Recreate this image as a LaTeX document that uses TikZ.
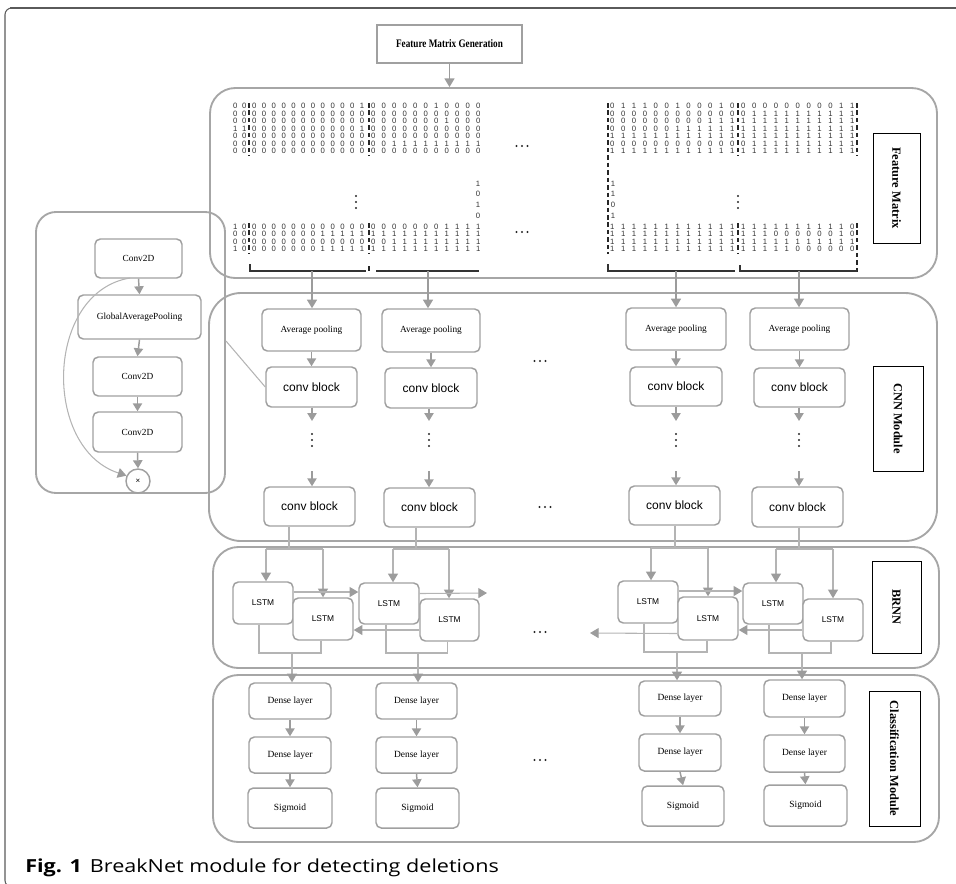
\documentclass[tikz,border=0pt]{standalone}
\usepackage{fontspec}
\setmainfont{Liberation Serif}
\setsansfont{Liberation Sans}
\newfontfamily\fmgfont[FakeStretch=0.8]{Liberation Serif}
\newfontfamily\capfont[FakeStretch=1.2]{Open Sans}
\usetikzlibrary{arrows.meta}
\definecolor{pan}{HTML}{A6A6A6}
\definecolor{bx}{HTML}{A0A0A0}
\definecolor{ar}{HTML}{9C9C9C}
\definecolor{lnc}{HTML}{B4B4B4}
\definecolor{dig}{HTML}{333333}
\definecolor{frm}{HTML}{5A5A5A}
\newlength\dpitch
\def\drow#1{\ifx#1\relax\else\makebox[\dpitch]{#1}\expandafter\drow\fi}
\newcommand\bx[7]{%
  \pgfmathsetmacro\bxcx{(#3+#5)/2}\pgfmathsetmacro\bxcy{(#4+#6)/2}%
  \pgfmathsetmacro\bxw{(#5-#3)*0.75}\pgfmathsetmacro\bxh{(#6-#4)*0.75}%
  \node[#1, minimum width=\bxw pt, minimum height=\bxh pt] (#2) at (\bxcx,\bxcy) {#7};}
\newcommand\mblock[6]{%
  \foreach \r [count=\i from 0] in {#6} {%
    \node[digit] (#1-\i) at (#2,#4+#5*\i) {\setlength\dpitch{#3}\expandafter\drow\r\relax};}}
\newcommand\hdotsat[1]{\foreach \dx in {-5.5,0,5.5} \fill[black!85] (#1) ++(\dx,0) circle (0.85pt);}
\newcommand\vdotsat[1]{\foreach \dy in {-6,0,6} \fill[black!85] (#1) ++(0,\dy) circle (0.85pt);}
\begin{document}
\begin{tikzpicture}[x=0.75pt,y=-0.75pt,
  gbox/.style={draw=bx, line width=1.1pt, rounded corners=4pt, fill=white, inner sep=0pt},
  sbox/.style={draw=bx, line width=1.1pt, fill=white, inner sep=0pt},
  lbox/.style={draw=black, line width=0.7pt, inner sep=0pt, font=\bfseries\fontsize{9.3}{10}\selectfont},
  panel/.style={draw=pan, line width=1.4pt, rounded corners=19pt, inner sep=0pt},
  arr/.style={draw=ar, line width=1.1pt, -{Triangle[length=6.5pt,width=7.5pt]}},
  sarr/.style={draw=ar, line width=1.1pt, -{Triangle[length=6pt,width=7pt]}},
  ln/.style={draw=lnc, line width=0.8pt},
  lnarr/.style={draw=lnc, line width=0.8pt, -{Triangle[length=6.5pt,width=7.5pt,color=ar]}},
  digit/.style={inner sep=0pt, anchor=west, text=dig, font=\sffamily\fontsize{5.8}{6}\selectfont},
  sepl/.style={draw=black!85, line width=0.8pt, dash pattern=on 3.4pt off 2.2pt},
  brk/.style={draw=black!80, line width=1.1pt},
  sf/.style={font=\fontsize{7}{8}\selectfont},
  cb/.style={font=\sffamily\fontsize{9}{10}\selectfont},
  ls/.style={font=\sffamily\fontsize{6.3}{7}\selectfont},
  dn/.style={font=\fontsize{7.1}{8}\selectfont}
]
\useasboundingbox (0,0) rectangle (956,883);
% frame
\draw[frm, line width=1.6pt] (10,8) -- (956,8);
\draw[frm, line width=0.8pt, rounded corners=5pt] (20,8) -- (5,8) -- (5,887) -- (20,887);
% caption
\node[anchor=base west, inner sep=0pt] (cap) at (25,872) {\capfont\fontsize{13.5}{16}\selectfont\textbf{Fig. 1}\hspace{6pt}BreakNet module for detecting deletions};

% panels
\bx{panel}{fm}{210}{88}{937}{278}{}
\bx{panel, rounded corners=24pt}{cnn}{209}{293}{937}{541}{}
\bx{panel}{brnn}{213}{547}{939}{668}{}
\bx{panel}{cls}{213}{675}{939}{842}{}
\bx{panel, rounded corners=15pt}{inset}{36}{212}{225}{493}{}

% feature matrix generation
\bx{sbox, font=\fmgfont\bfseries\fontsize{8.6}{9}\selectfont}{fmg}{377}{25}{522}{63}{Feature Matrix Generation}
\draw[arr] (fmg.south) -- (fmg.south |- fm.north);

% side labels
\bx{lbox}{lfm}{873}{133}{920}{243}{\rotatebox{-90}{Feature Matrix}}
\bx{lbox}{lcnn}{873}{366}{923}{471}{\rotatebox{-90}{CNN Module}}
\bx{lbox}{lbrnn}{872}{561}{921}{653}{\rotatebox{-90}{BRNN}}
\bx{lbox}{lcls}{869}{691}{920}{826}{\rotatebox{-90}{Classification Module}}

% ---------- matrix, left part
\mblock{tl0}{230.5}{6.75pt}{106}{7.5}{00,00,00,11,00,00,00}
\mblock{tl1}{249.1}{7.35pt}{106}{7.5}{000000000001,000000000000,000000000000,000000000001,000000000000,000000000000,000000000000}
\mblock{tl2}{367.75}{7.875pt}{106}{7.5}{00000010000,00000000000,00000001000,00000000000,00000000000,00111111111,00000000000}
\mblock{bl0}{230.5}{6.75pt}{227}{7.3}{10,00,00,10}
\mblock{bl1}{249.1}{7.35pt}{227}{7.3}{000000000000,000000011111,000000000000,000000011111}
\mblock{bl2}{367.75}{7.875pt}{227}{7.3}{00000001111,11111111111,00111111111,11111111111}
\foreach \v/\y [count=\k] in {1/184,0/194,1/205,0/216}
  \node[digit, anchor=center] (ml-\k) at (478,\y) {\v};
% right part
\mblock{tr1}{606.55}{8.175pt}{106}{7.5}{011100100010,000000000000,000000000111,000000111111,111111111111,000000000000,111111111111}
\mblock{tr2}{737.55}{8.175pt}{106}{7.5}{00000000011,01111111111,11111111111,11111111111,11111111111,01111111111,11111111111}
\mblock{br1}{606.55}{8.175pt}{227}{7.3}{111111111111,111111111111,111111111111,111111111111}
\mblock{br2}{737.55}{8.175pt}{227}{7.3}{11111111110,11100000010,11111111111,11111000000}
\foreach \v/\y [count=\k] in {1/184,1/194,0/205,1/216}
  \node[digit, anchor=center] (mr-\k) at (613,\y) {\v};
% separators
\draw[sepl] (249,103) -- (249,156);
\draw[sepl] (249,223) -- (249,254);
\draw[sepl] (369,103) -- (369,156);
\draw[sepl] (369,223) -- (369,254);
\draw[sepl] (369,266) -- (369,273);
\draw[sepl] (608,103) -- (608,254);
\draw[sepl] (738,103) -- (738,156);
\draw[sepl] (738,223) -- (738,254);
\draw[sepl] (857,103) -- (857,156);
\draw[sepl] (857,223) -- (857,273);
% brackets
\coordinate (b1) at (312,271);
\coordinate (b2) at (428,271);
\coordinate (b3) at (676,271);
\coordinate (b4) at (799,271);
\draw[brk] (250,264) -- (250,271) -- (366,271);
\draw[brk] (376,271) -- (479,271);
\draw[brk] (608,264) -- (608,271) -- (735,271);
\draw[brk] (740,265) -- (740,271) -- (857,271);
% dots
\coordinate (fmd1) at (522,146); \hdotsat{fmd1}
\coordinate (fmd2) at (522,232); \hdotsat{fmd2}
\coordinate (fmv1) at (356,202); \vdotsat{fmv1}
\coordinate (fmv2) at (738,202); \vdotsat{fmv2}

% ---------- inset
\bx{gbox, sf}{c1}{95}{239}{182}{278}{Conv2D}
\bx{gbox, sf}{gap}{78}{295}{201}{339}{GlobalAveragePooling}
\bx{gbox, sf}{c2}{93}{357}{182}{396}{Conv2D}
\bx{gbox, sf}{c3}{93}{412}{182}{452}{Conv2D}
\node[draw=bx, line width=1.1pt, circle, minimum size=18pt, inner sep=0pt, font=\sffamily\fontsize{6}{6}\selectfont] (mul) at (138,481) {×};
\draw[sarr] (c1.south) -- (gap.north);
\draw[sarr] (gap.south) -- (c2.north);
\draw[sarr] (c2.south) -- (c3.north);
\draw[sarr] (c3.south) -- (mul.north);
\coordinate (cs) at (130,278);
\draw[lnarr] (cs) .. controls (45,292) and (42,448) .. (mul.155);

% ---------- CNN
\bx{gbox, sf}{ap1}{262}{309}{361}{351}{Average pooling}
\bx{gbox, sf}{ap2}{382}{309}{480}{352}{Average pooling}
\bx{gbox, sf}{ap3}{626}{308}{726}{350}{Average pooling}
\bx{gbox, sf}{ap4}{750}{308}{849}{350}{Average pooling}
\bx{gbox, cb}{cb1}{266}{367}{357}{407}{conv block}
\bx{gbox, cb}{cb2}{385}{368}{477}{408}{conv block}
\bx{gbox, cb}{cb3}{630}{367}{722}{406}{conv block}
\bx{gbox, cb}{cb4}{754}{368}{845}{407}{conv block}
\bx{gbox, cb}{cc1}{264}{487}{355}{526}{conv block}
\bx{gbox, cb}{cc2}{384}{488}{475}{527}{conv block}
\bx{gbox, cb}{cc3}{629}{486}{720}{525}{conv block}
\bx{gbox, cb}{cc4}{752}{487}{843}{527}{conv block}
\coordinate (ins) at (226,341);
\draw[ln] (ins) -- (cb1.west);
\foreach \k/\x in {1/312,2/429,3/676,4/799}{
  \draw[arr] (b\k) -- (b\k |- ap\k.north);
  \draw[sarr] (ap\k.south) -- (cb\k.north);
  \coordinate (u\k) at (\x,421);
  \coordinate (w\k) at (\x,471);
  \coordinate (v\k) at (\x,440);
  \draw[sarr] (cb\k.south -| u\k) -- (u\k);
  \draw[sarr] (w\k) -- (w\k |- cc\k.north);
  \vdotsat{v\k}
}
\coordinate (cd1) at (540,361); \hdotsat{cd1}
\coordinate (cd2) at (545,507); \hdotsat{cd2}

% ---------- BRNN
\bx{gbox, ls}{la1}{233}{582}{293}{624}{LSTM}
\bx{gbox, ls}{lb1}{293}{598}{353}{640}{LSTM}
\bx{gbox, ls}{la2}{359}{583}{419}{624}{LSTM}
\bx{gbox, ls}{lb2}{420}{599}{479}{641}{LSTM}
\bx{gbox, ls}{la3}{618}{581}{678}{623}{LSTM}
\bx{gbox, ls}{lb3}{678}{597}{738}{640}{LSTM}
\bx{gbox, ls}{la4}{743}{583}{803}{624}{LSTM}
\bx{gbox, ls}{lb4}{803}{599}{863}{641}{LSTM}
\foreach \k/\sx/\y/\l/\r in {1/289/549/266/323, 2/416/549/393/449, 3/675/548/651/708, 4/799/549/776/833}{
  \coordinate (s\k) at (\sx,\y);
  \coordinate (sl\k) at (\l,\y);
  \coordinate (sr\k) at (\r,\y);
  \draw[ln] (cc\k.south -| s\k) -- (s\k);
  \draw[ln] (sl\k) -- (sr\k);
  \draw[lnarr] (sl\k) -- (sl\k |- la\k.north);
  \draw[lnarr] (sr\k) -- (sr\k |- lb\k.north);
}
% forward
\draw[lnarr] ([yshift=8.25pt]la1.east) -- ([yshift=8.25pt]la1.east -| la2.west);
\coordinate (fe2) at (487,593);
\draw[lnarr] ([yshift=7.5pt]la2.east) -- (fe2);
\draw[lnarr] ([yshift=8.25pt]la3.east) -- ([yshift=8.25pt]la3.east -| la4.west);
% backward
\draw[lnarr] ([yshift=-7.5pt]lb2.west) -- ([yshift=-7.5pt]lb2.west -| lb1.east);
\draw[lnarr] ([yshift=-7.5pt]lb4.west) -- ([yshift=-7.5pt]lb4.west -| lb3.east);
\coordinate (be3) at (590,633);
\draw[lnarr] ([yshift=-11.25pt]lb3.west) -- (be3);
% merges
\coordinate (m1) at (292,653);
\coordinate (m2) at (418,653);
\coordinate (m3) at (677,652);
\coordinate (m4) at (802,653);
\draw[ln] ([xshift=-3pt]la1.south) |- (m1); \draw[ln] ([xshift=-1.5pt]lb1.south) |- (m1);
\draw[ln] ([xshift=-2.25pt]la2.south) |- (m2); \draw[ln] ([xshift=-1.5pt]lb2.south) |- (m2);
\draw[ln] ([xshift=-3pt]la3.south) |- (m3); \draw[ln] ([xshift=-0.75pt]lb3.south) |- (m3);
\draw[ln] ([xshift=-3pt]la4.south) |- (m4); \draw[ln] ([xshift=-1.5pt]lb4.south) |- (m4);
\coordinate (bd) at (540,632); \hdotsat{bd}

% ---------- classification
\bx{gbox, dn}{d11}{249}{683}{331}{719}{Dense layer}
\bx{gbox, dn}{d12}{249}{737}{331}{773}{Dense layer}
\bx{gbox, dn}{d13}{248}{788}{332}{828}{Sigmoid}
\bx{gbox, dn}{d21}{376}{683}{457}{719}{Dense layer}
\bx{gbox, dn}{d22}{376}{737}{457}{773}{Dense layer}
\bx{gbox, dn}{d23}{376}{788}{459}{828}{Sigmoid}
\bx{gbox, dn}{d31}{639}{681}{721}{716}{Dense layer}
\bx{gbox, dn}{d32}{639}{734}{721}{771}{Dense layer}
\bx{gbox, dn}{d33}{642}{786}{724}{826}{Sigmoid}
\bx{gbox, dn}{d41}{764}{680}{845}{717}{Dense layer}
\bx{gbox, dn}{d42}{764}{735}{845}{772}{Dense layer}
\bx{gbox, dn}{d43}{764}{785}{847}{826}{Sigmoid}
\foreach \k in {1,2,3,4}{
  \draw[lnarr] (m\k) -- (m\k |- d\k1.north);
  \draw[sarr] (d\k1.south) -- (d\k2.north);
  \draw[sarr] (d\k2.south) -- (d\k3.north);
}
\coordinate (dd) at (540,760); \hdotsat{dd}
\end{tikzpicture}
\end{document}
